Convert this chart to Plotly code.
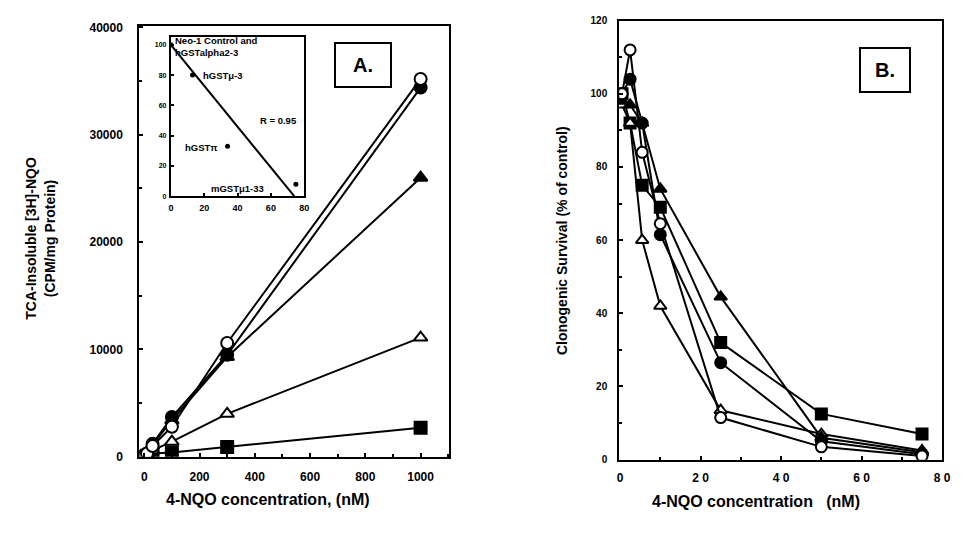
import plotly.graph_objects as go

# ---------------- Panel A data ----------------
a_conc = [0, 10, 30, 100, 300, 1000]
a_open_circle = [0, 300, 1000, 2800, 10600, 35200]
a_filled_circle = [0, 300, 1200, 3700, 9500, 34400]
a_filled_triangle = [0, 300, 1100, 3400, 9300, 26000]
a_open_triangle = [0, 200, 600, 1400, 4000, 11100]
a_filled_square = [0, 100, 300, 400, 900, 2700]
a_xticks = [0, 200, 400, 600, 800, 1000]
a_yticks = [0, 10000, 20000, 30000, 40000]
a_ylabels = ["0", "10000", "20000", "30000", "40000"]

# ---------------- Inset data ----------------
inset_x = [0, 13, 34, 75]
inset_y = [100, 80, 33, 8]
inset_fit_x = [0, 74]
inset_fit_y = [100, 0]
inset_ticks_x = [0, 20, 40, 60, 80]
inset_ticks_y = [0, 20, 40, 60, 80, 100]

# ---------------- Panel B data ----------------
b_conc = [0.5, 2.5, 5.5, 10, 25, 50, 75]
b_open_circle = [100, 112, 84, 64.5, 11.5, 3.5, 1]
b_filled_circle = [100, 104, 92, 61.5, 26.5, 5, 1.5]
b_filled_triangle = [98, 97, 92, 74, 44.5, 6, 2]
b_filled_square = [100, 92, 75, 69, 32, 12.5, 7]
b_open_triangle = [97, 92, 60, 42, 13.5, 7, 2.5]
b_xticks = [0, 20, 40, 60, 80]
b_xlabels = ["0", "2 0", "4 0", "6 0", "8 0"]
b_yticks = [0, 20, 40, 60, 80, 100, 120]

W, H = 963, 533
BOLD = dict(family="Liberation Sans, Arial, sans-serif", color="black", weight="bold")


def px_x(p):
    return p / W


def px_y(p):
    return (H - p) / H


styles = [
    ("circle", "white"),
    ("circle", "black"),
    ("triangle-up", "black"),
    ("triangle-up", "white"),
    ("square", "black"),
]

fig = go.Figure()


def add_series(x, y, sym, fill, xa, ya, size=12):
    fig.add_trace(go.Scatter(
        x=x, y=y, mode="lines+markers", xaxis=xa, yaxis=ya,
        line=dict(color="black", width=2),
        marker=dict(symbol=sym, size=size, color=fill,
                    line=dict(color="black", width=2)),
        showlegend=False, hoverinfo="skip"))


a_series = [a_filled_square, a_open_triangle, a_filled_triangle, a_filled_circle, a_open_circle]
a_styles = [styles[4], styles[3], styles[2], styles[1], styles[0]]
for ys, (sym, fill) in zip(a_series, a_styles):
    add_series(a_conc, ys, sym, fill, "x", "y")

b_series = [b_filled_square, b_open_triangle, b_filled_triangle, b_filled_circle, b_open_circle]
for ys, (sym, fill) in zip(b_series, a_styles):
    add_series(b_conc, ys, sym, fill, "x2", "y2", size=11)

# inset
fig.add_trace(go.Scatter(x=inset_fit_x, y=inset_fit_y, mode="lines", xaxis="x3", yaxis="y3",
                         line=dict(color="black", width=2), showlegend=False, hoverinfo="skip"))
fig.add_trace(go.Scatter(x=inset_x, y=inset_y, mode="markers", xaxis="x3", yaxis="y3",
                         marker=dict(symbol="circle", size=5, color="black"),
                         showlegend=False, hoverinfo="skip"))

axis_common = dict(showline=True, linecolor="black", linewidth=2, mirror=True,
                   showgrid=False, zeroline=False, ticks="inside", ticklen=4,
                   tickcolor="black", tickwidth=2,
                   tickfont=dict(size=12, **BOLD))

fig.update_layout(
    width=W, height=H, margin=dict(l=0, r=0, t=0, b=0),
    paper_bgcolor="white", plot_bgcolor="white",
    xaxis=dict(axis_common, domain=[px_x(138), px_x(452)], range=[-18, 1104],
               tickvals=a_xticks, ticklabelstandoff=8, anchor="y",
               minor=dict(dtick=100, ticks="inside", ticklen=3, tickcolor="black")),
    yaxis=dict(axis_common, domain=[px_y(462), px_y(20)], range=[0, 40180],
               tickvals=a_yticks, ticktext=a_ylabels, ticklabelstandoff=12, anchor="x",
               minor=dict(dtick=5000, ticks="inside", ticklen=3, tickcolor="black")),
    xaxis2=dict(axis_common, domain=[px_x(624), px_x(951)], range=[-0.2, 80],
                tickvals=b_xticks, ticktext=b_xlabels, ticklabelstandoff=6, anchor="y2",
                minor=dict(dtick=10, ticks="inside", ticklen=3, tickcolor="black")),
    yaxis2=dict(axis_common, domain=[px_y(465), px_y(15)], range=[0, 120],
                tickvals=b_yticks, ticklabelstandoff=8, anchor="x2",
                tickfont=dict(size=10, **BOLD),
                minor=dict(dtick=10, ticks="inside", ticklen=3, tickcolor="black")),
    xaxis3=dict(axis_common, domain=[px_x(170), px_x(305)], range=[0, 80],
                tickvals=inset_ticks_x, anchor="y3", ticklen=3, ticklabelstandoff=2,
                tickfont=dict(size=9, **BOLD)),
    yaxis3=dict(axis_common, domain=[px_y(195), px_y(32)], range=[0, 105],
                tickvals=inset_ticks_y, anchor="x3", ticklen=3, ticklabelstandoff=1,
                tickfont=dict(size=7, **BOLD)),
)

ann = []
C = dict(xref="paper", yref="paper", showarrow=False, xanchor="center", yanchor="middle")
# axis titles
ann.append(dict(C, text="4-NQO concentration, (nM)", x=px_x(268), y=px_y(506),
                font=dict(size=16, **BOLD)))
ann.append(dict(C, text="4-NQO concentration   (nM)", x=px_x(762), y=px_y(508),
                font=dict(size=16, **BOLD)))
ann.append(dict(C, text="TCA-Insoluble [3H]-NQO<br>(CPM/mg Protein)", x=px_x(38), y=px_y(238),
                textangle=-90, font=dict(size=14, **BOLD)))
ann.append(dict(C, text="Clonogenic Survival (% of control)", x=px_x(566), y=px_y(240),
                textangle=-90, font=dict(size=14, **BOLD)))
# panel labels
ann.append(dict(C, text="A.", x=px_x(365), y=px_y(60),
                font=dict(size=20, **BOLD), bordercolor="black", borderwidth=2, borderpad=4,
                bgcolor="white", width=46, height=34))
ann.append(dict(C, text="B.", x=px_x(893), y=px_y(66),
                font=dict(size=20, **BOLD), bordercolor="black", borderwidth=2, borderpad=4,
                bgcolor="white", width=40, height=34))
# inset labels
small = dict(size=9.5, **BOLD)
ann.append(dict(text="Neo-1 Control and<br>hGSTalpha2-3", x=16, y=97, xref="x3", yref="y3",
                xanchor="left", yanchor="middle", align="left", showarrow=True,
                ax=1.5, ay=99, axref="x3", ayref="y3", arrowhead=0, arrowwidth=1.5,
                font=small))
ann.append(dict(text="hGSTμ-3", x=18, y=80, xref="x3", yref="y3", xanchor="left", yanchor="middle",
                showarrow=False, font=small))
ann.append(dict(text="R = 0.95", x=77, y=50, xref="x3", yref="y3", xanchor="right", yanchor="middle",
                showarrow=False, font=small))
ann.append(dict(text="hGSTπ", x=7, y=32, xref="x3", yref="y3", xanchor="left", yanchor="middle",
                showarrow=False, font=small))
ann.append(dict(text="mGSTμ1-33", x=23, y=5, xref="x3", yref="y3", xanchor="left", yanchor="middle",
                showarrow=False, font=small))
fig.update_layout(annotations=ann)

fig.write_html("out.html", config={"displayModeBar": False},
               post_script="document.body.style.margin='0';document.body.style.overflow='hidden';")
